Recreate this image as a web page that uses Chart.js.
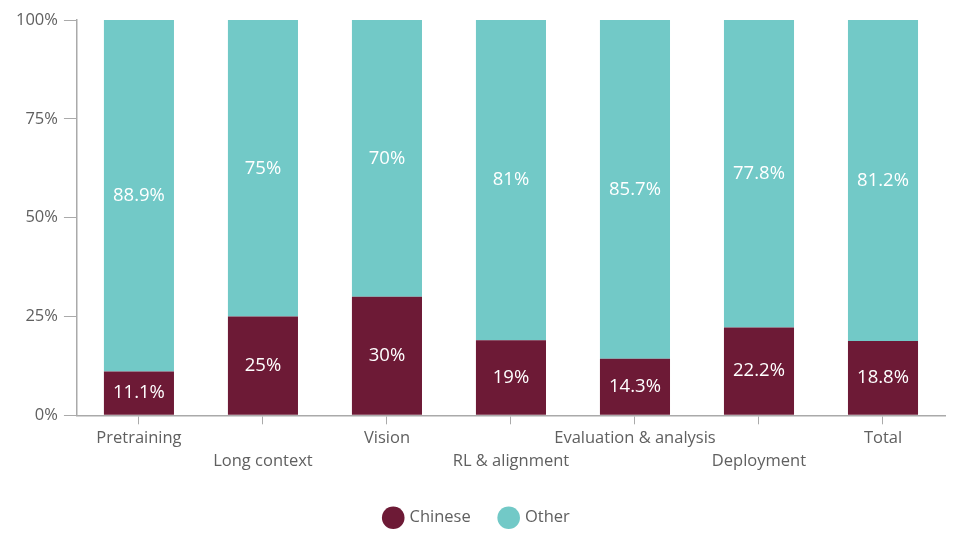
<!DOCTYPE html>
<html>
<head>
<meta charset="utf-8">
<script src="https://cdn.jsdelivr.net/npm/chart.js@4.4.1/dist/chart.umd.min.js"></script>
<style>
  html, body { margin: 0; padding: 0; background: #fff; }
  #wrap { width: 960px; height: 556px; }
</style>
</head>
<body>
<div id="wrap"><canvas id="grafico"></canvas></div>
<script>
const categorias = ['Pretraining', 'Long context', 'Vision', 'RL & alignment', 'Evaluation & analysis', 'Deployment', 'Total'];
const chinese = [11.1, 25, 30, 19, 14.3, 22.2, 18.8];
const other = [88.9, 75, 70, 81, 85.7, 77.8, 81.2];
const yTicks = [0, 25, 50, 75, 100];

const corChinese = '#6d1a36';
const corOther = '#72c9c7';

// staggered labels: every second label goes to the second line
const rotulos = categorias.map((c, i) => i % 2 === 1 ? ['', c] : c);

const valoresPlugin = {
    id: 'valores',
    afterDatasetsDraw(chart) {
        const ctx = chart.ctx;
        ctx.save();
        ctx.font = '18.5px "Open Sans"';
        ctx.fillStyle = '#ffffff';
        ctx.textAlign = 'center';
        ctx.textBaseline = 'middle';
        chart.data.datasets.forEach((ds, di) => {
            chart.getDatasetMeta(di).data.forEach((bar, i) => {
                const mid = (bar.y + bar.base) / 2;
                ctx.fillText(ds.data[i] + '%', bar.x, mid);
            });
        });
        ctx.restore();
    }
};

const ctx = document.getElementById('grafico').getContext('2d');
new Chart(ctx, {
    type: 'bar',
    data: {
        labels: rotulos,
        datasets: [
            { label: 'Chinese', data: chinese, backgroundColor: corChinese, borderWidth: 0 },
            { label: 'Other', data: other, backgroundColor: corOther, borderWidth: 0 }
        ]
    },
    options: {
        responsive: true,
        maintainAspectRatio: false,
        animation: false,
        layout: { padding: { top: 20, right: 15, left: 10, bottom: 20 } },
        datasets: { bar: { barPercentage: 0.565, categoryPercentage: 1 } },
        scales: {
            x: {
                stacked: true,
                afterFit(axis) { axis.height += 5; },
                grid: { drawOnChartArea: false, offset: false, color: '#aaaaaa', tickLength: 9 },
                border: { color: '#aaaaaa', width: 1.5 },
                ticks: { color: '#606060', font: { family: 'Open Sans', size: 16.5, lineHeight: 1.4 }, padding: 2, autoSkip: false, maxRotation: 0 }
            },
            y: {
                stacked: true,
                min: 0,
                max: 100,
                afterBuildTicks(axis) { axis.ticks = yTicks.map(v => ({ value: v })); },
                grid: { drawOnChartArea: false, color: '#aaaaaa', tickLength: 13 },
                border: { color: '#aaaaaa', width: 1.5 },
                ticks: { color: '#606060', font: { family: 'Open Sans', size: 16.5 }, padding: 6, callback: v => v + '%' }
            }
        },
        plugins: {
            legend: {
                position: 'bottom',
                labels: {
                    usePointStyle: true,
                    pointStyle: 'circle',
                    boxHeight: 16,
                    boxWidth: 16,
                    padding: 30,
                    color: '#606060',
                    font: { family: 'Open Sans', size: 16.5 }
                }
            },
            tooltip: { enabled: false }
        }
    },
    plugins: [valoresPlugin]
});
</script>
</body>
</html>
